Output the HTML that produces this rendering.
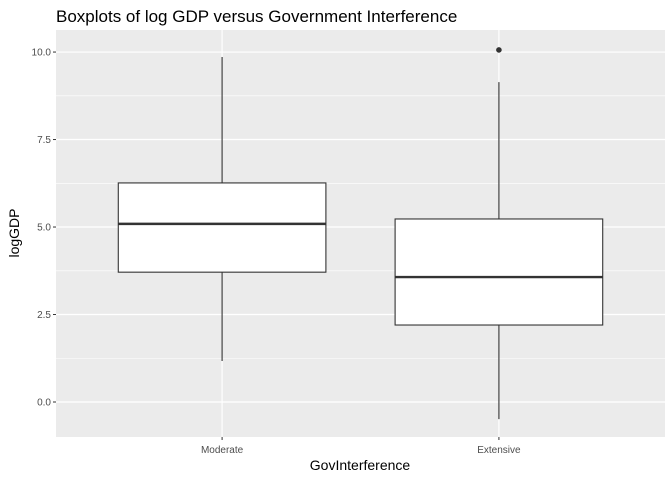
<!DOCTYPE html>
<html><head><meta charset="utf-8"><style>
body{margin:0;background:#fff;}
svg text{font-family:"Liberation Sans",sans-serif;}
</style></head><body>
<svg id="chart" width="672" height="480">
<text x="56" y="22" font-size="17" fill="#000">Boxplots of log GDP versus Government Interference</text>
<rect x="56" y="30" width="609" height="407" fill="#ebebeb"/>
<g id="grid"></g><g id="marks"></g><g id="axes"></g>
<text x="360" y="470" font-size="14" text-anchor="middle" fill="#000">GovInterference</text>
<text transform="translate(19,233) rotate(-90)" font-size="14" text-anchor="middle" fill="#000">logGDP</text>
</svg>
<script>
const categories=["Moderate","Extensive"];
const q1=[3.71,2.2];
const medians=[5.09,3.57];
const q3=[6.26,5.23];
const whiskLow=[1.17,-0.49];
const whiskHigh=[9.86,9.14];
const outliers=[[],[10.06]];
const yTicks=[0,2.5,5,7.5,10];
const yTickLabels=["0.0","2.5","5.0","7.5","10.0"];
const NS="http://www.w3.org/2000/svg";
const L=56,R=665,T=30,B=437,ymin=-1.0,ymax=10.63;
function y(v){return B-(v-ymin)/(ymax-ymin)*(B-T);}
const step=(R-L)/(categories.length+0.2);
function x(i){return L+step*(0.6+i);}
function el(t,a,p){const e=document.createElementNS(NS,t);for(const k in a)e.setAttribute(k,a[k]);document.getElementById(p).appendChild(e);return e;}
// minor grid
for(let i=0;i<yTicks.length-1;i++){const m=(yTicks[i]+yTicks[i+1])/2;
const g=el("line",{x1:L,x2:R,y1:y(m),y2:y(m),stroke:"#fff","stroke-width":0.6},"grid");

}
yTicks.forEach((v,i)=>{
const g=el("line",{x1:L,x2:R,y1:y(v),y2:y(v),stroke:"#fff","stroke-width":1.2},"grid");


const tk=el("line",{x1:L-3,x2:L,y1:y(v),y2:y(v),stroke:"#333","stroke-width":1},"axes");


const t=el("text",{x:L-5,y:y(v)+3.5,"font-size":10,"text-anchor":"end",fill:"#4d4d4d"},"axes");
t.textContent=yTickLabels[i];


});
categories.forEach((c,i)=>{
const cx=x(i),w=step*0.75;
const g=el("line",{x1:cx,x2:cx,y1:T,y2:B,stroke:"#fff","stroke-width":1.2},"grid");


const wh=el("line",{x1:cx,x2:cx,y1:y(whiskHigh[i]),y2:y(whiskLow[i]),stroke:"#333","stroke-width":1.1},"marks");


const bx=el("rect",{x:cx-w/2,y:y(q3[i]),width:w,height:y(q1[i])-y(q3[i]),fill:"#fff",stroke:"#333","stroke-width":1.1},"marks");


const md=el("line",{x1:cx-w/2,x2:cx+w/2,y1:y(medians[i]),y2:y(medians[i]),stroke:"#333","stroke-width":2.4},"marks");


outliers[i].forEach(o=>{const p=el("circle",{cx:cx,cy:y(o),r:2.8,fill:"#333"},"marks");

});
const tk=el("line",{x1:cx,x2:cx,y1:B,y2:B+3,stroke:"#333","stroke-width":1},"axes");


const t=el("text",{x:cx,y:B+16,"font-size":10,"text-anchor":"middle",fill:"#4d4d4d"},"axes");
t.textContent=c;


});
</script>
</body></html>
